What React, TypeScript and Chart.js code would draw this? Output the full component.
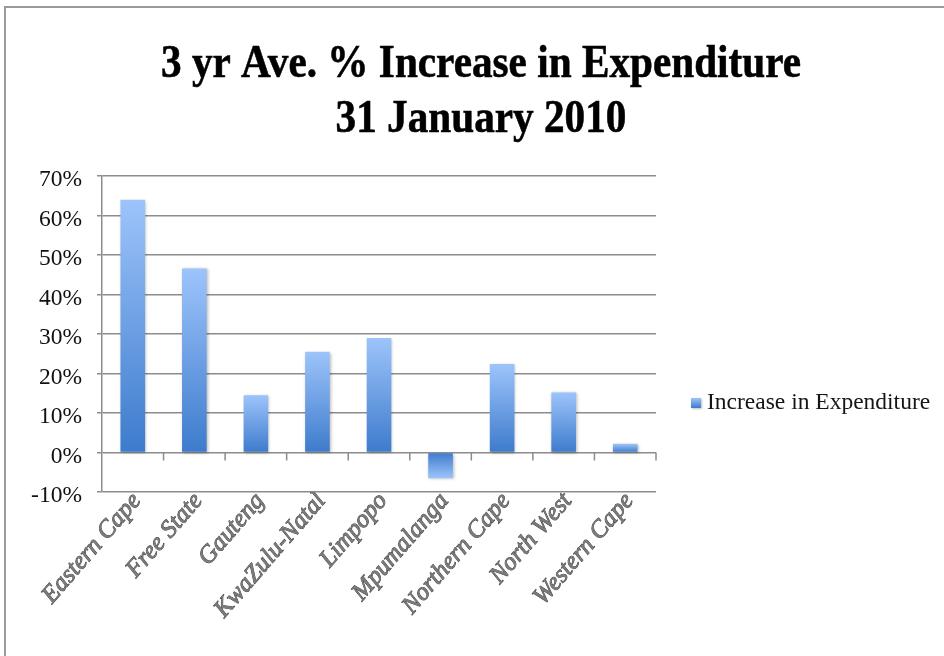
import React, { useEffect, useRef } from "react";
import { Chart, registerables } from "chart.js";

Chart.register(...registerables);

const titleLines = ["3 yr Ave. % Increase in Expenditure", "31 January 2010"];
const seriesLabel = "Increase in Expenditure";
const categories = [
  "Eastern Cape",
  "Free State",
  "Gauteng",
  "KwaZulu-Natal",
  "Limpopo",
  "Mpumalanga",
  "Northern Cape",
  "North West",
  "Western Cape",
];
const values = [64, 46.6, 14.5, 25.5, 29, -6.5, 22.4, 15.2, 2.2];
const yMin = -10;
const yMax = 70;
const yStep = 10;

const LIGHT = "#9dc4fb";
const DARK = "#3d7bcc";
const GRID = "#8c8c8c";

export default function App() {
  const ref = useRef<HTMLCanvasElement | null>(null);

  useEffect(() => {
    const canvas = ref.current;
    if (!canvas) return;

    const framePlugin = {
      id: "frame",
      beforeDraw(chart: any) {
        const c = chart.ctx;
        c.save();
        c.fillStyle = "#ffffff";
        c.fillRect(0, 0, chart.width, chart.height);
        c.strokeStyle = "#9a9a9a";
        c.lineWidth = 2;
        c.beginPath();
        c.moveTo(5, chart.height);
        c.lineTo(5, 7);
        c.lineTo(chart.width, 7);
        c.stroke();
        c.restore();
      },
    };

    const titlePlugin = {
      id: "condTitle",
      afterDraw(chart: any) {
        const c = chart.ctx;
        c.save();
        c.font = 'bold 47px "Liberation Serif"';
        c.fillStyle = "#000";
        c.strokeStyle = "#000";
        c.lineWidth = 0.6;
        c.textAlign = "center";
        c.textBaseline = "alphabetic";
        const w1 = c.measureText(titleLines[0]).width;
        const s = 640 / w1;
        c.translate(481, 0);
        c.scale(s, 1);
        c.fillText(titleLines[0], 0, 77);
        c.strokeText(titleLines[0], 0, 77);
        c.fillText(titleLines[1], 0, 132);
        c.strokeText(titleLines[1], 0, 132);
        c.restore();
      },
    };

    const shadowPlugin = {
      id: "barShadow",
      beforeDatasetsDraw(chart: any) {
        const c = chart.ctx;
        c.save();
        c.shadowColor = "rgba(0,0,0,0.28)";
        c.shadowBlur = 3;
        c.shadowOffsetX = 1;
        c.shadowOffsetY = 1;
      },
      afterDatasetsDraw(chart: any) {
        chart.ctx.restore();
      },
    };

    const zeroTicksPlugin = {
      id: "zeroTicks",
      afterDatasetsDraw(chart: any) {
        const c = chart.ctx;
        const ys = chart.scales.y;
        const area = chart.chartArea;
        const y0 = ys.getPixelForValue(0);
        const n = chart.data.labels.length;
        const w = (area.right - area.left) / n;
        c.save();
        c.strokeStyle = GRID;
        c.lineWidth = 1.5;
        c.beginPath();
        for (let i = 1; i <= n; i++) {
          const x = area.left + i * w;
          c.moveTo(x, y0);
          c.lineTo(x, y0 + 8);
        }
        c.stroke();
        c.restore();
      },
    };

    const legendPlugin = {
      id: "customLegend",
      afterDraw(chart: any) {
        const c = chart.ctx;
        const x = 691;
        const y = 398;
        c.save();
        const g = c.createLinearGradient(0, y, 0, y + 10);
        g.addColorStop(0, LIGHT);
        g.addColorStop(1, DARK);
        c.shadowColor = "rgba(0,0,0,0.25)";
        c.shadowBlur = 2;
        c.shadowOffsetX = 1;
        c.shadowOffsetY = 1;
        c.fillStyle = g;
        c.fillRect(x, y, 10, 10);
        c.shadowColor = "transparent";
        c.font = '23.5px "Liberation Serif"';
        c.fillStyle = "#151515";
        c.textAlign = "left";
        c.textBaseline = "middle";
        c.fillText(chart.data.datasets[0].label, x + 16, y + 5);
        c.restore();
      },
    };

    const chart = new Chart(canvas, {
      type: "bar",
      data: {
        labels: categories,
        datasets: [
          {
            label: seriesLabel,
            data: values,
            backgroundColor: (ctx: any) => {
              const ch = ctx.chart;
              const ys = ch.scales && ch.scales.y;
              if (!ys || !ch.chartArea || ctx.raw === undefined) return DARK;
              const yv = ys.getPixelForValue(ctx.raw);
              const yb = ys.getPixelForValue(0);
              if (Math.abs(yv - yb) < 0.5) return DARK;
              const g = ch.ctx.createLinearGradient(0, yv, 0, yb);
              g.addColorStop(0, LIGHT);
              g.addColorStop(1, DARK);
              return g;
            },
            borderWidth: 0,
            categoryPercentage: 1,
            barPercentage: 0.4,
          },
        ],
      },
      options: {
        responsive: false,
        animation: false,
        devicePixelRatio: 1,
        layout: { padding: { top: 176, left: 0, right: 288, bottom: 0 } },
        plugins: {
          legend: { display: false },
          title: { display: false },
          tooltip: { enabled: false },
        },
        scales: {
          x: {
            grid: { display: false, drawTicks: false },
            border: { display: false },
            afterFit: (scale: any) => {
              scale.height = 164;
            },
            ticks: {
              autoSkip: false,
              minRotation: 49,
              maxRotation: 49,
              padding: -5,
              labelOffset: 4,
              color: "#7a7a7a",
              textStrokeColor: "#3a3a3a",
              textStrokeWidth: 0.8,
              font: { family: '"Liberation Serif"', size: 25, style: "italic" },
            },
          },
          y: {
            min: yMin,
            max: yMax,
            afterFit: (scale: any) => {
              scale.width = 102;
            },
            grid: { color: GRID, lineWidth: 1.5, drawTicks: true, tickLength: 5 },
            border: { display: true, color: GRID, width: 1.5 },
            ticks: {
              stepSize: yStep,
              padding: 15,
              labelOffset: 4,
              color: "#111",
              font: { family: '"Liberation Serif"', size: 23.5 },
              callback: (v: any) => `${v}%`,
            },
          },
        },
      },
      plugins: [framePlugin, shadowPlugin, zeroTicksPlugin, titlePlugin, legendPlugin],
    });

    return () => chart.destroy();
  }, []);

  return (
    <div style={{ position: "fixed", left: 0, top: 0, width: 944, height: 656, background: "#fff" }}>
      <canvas ref={ref} width={944} height={656} style={{ display: "block" }} />
    </div>
  );
}
